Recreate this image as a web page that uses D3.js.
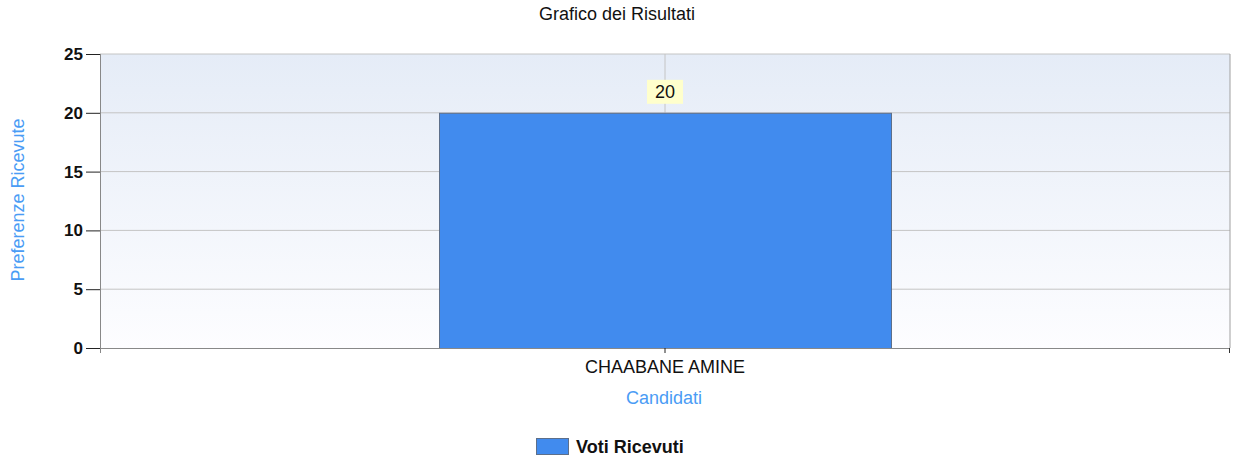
<!DOCTYPE html>
<html>
<head>
<meta charset="utf-8">
<script src="https://cdn.jsdelivr.net/npm/d3@7"></script>
<style>
  body { margin: 0; background: #fff; }
  text { font-family: Arial, "Liberation Sans", sans-serif; }
</style>
</head>
<body>
<script>
// chart data
var candidati = ["CHAABANE AMINE"];
var voti = [20];
var yTicks = [0, 5, 10, 15, 20, 25];
var seriesName = "Voti Ricevuti";

var W = 1234, H = 461;
var margin = {top: 54, right: 4, bottom: 113, left: 100},
    width = W - margin.left - margin.right,
    height = H - margin.top - margin.bottom;

var svg = d3.select("body").append("svg")
    .attr("width", W)
    .attr("height", H);

// background gradient
var grad = svg.append("defs").append("linearGradient")
    .attr("id", "bg").attr("x1", 0).attr("y1", 0).attr("x2", 0).attr("y2", 1);
grad.append("stop").attr("offset", "0%").attr("stop-color", "#e5ecf7");
grad.append("stop").attr("offset", "100%").attr("stop-color", "#fdfdff");

var g = svg.append("g")
    .attr("transform", "translate(" + margin.left + "," + margin.top + ")");

var x = d3.scaleBand().domain(candidati).range([0, width]).paddingInner(0).paddingOuter(0);
var y = d3.scaleLinear().domain([0, 25]).range([height, 0]);

g.append("rect")
    .attr("width", width).attr("height", height)
    .attr("fill", "url(#bg)");

// horizontal grid
g.selectAll(".hgrid").data(yTicks.slice(1)).enter().append("line")
    .attr("x1", 0).attr("x2", width)
    .attr("y1", function(d) { return y(d); })
    .attr("y2", function(d) { return y(d); })
    .attr("stroke", "#c4c4c4").attr("stroke-width", 1);

// vertical grid at category center
g.selectAll(".vgrid").data(candidati).enter().append("line")
    .attr("x1", function(d) { return x(d) + x.bandwidth() / 2; })
    .attr("x2", function(d) { return x(d) + x.bandwidth() / 2; })
    .attr("y1", 0).attr("y2", height)
    .attr("stroke", "#c4c4c4");

// right border
g.append("line").attr("x1", width).attr("x2", width).attr("y1", 0).attr("y2", height)
    .attr("stroke", "#a0a0a0");

// bars
var barW = x.bandwidth() * 0.4;
g.selectAll(".bar").data(voti).enter().append("rect")
    .attr("x", function(d, i) { return x(candidati[i]) + x.bandwidth() / 2 - barW / 2 + 0.5; })
    .attr("y", function(d) { return y(d) + 0.5; })
    .attr("width", barW)
    .attr("height", function(d) { return height - y(d); })
    .attr("fill", "#418bee")
    .attr("stroke", "#5d6f8a").attr("stroke-width", 1);

// value labels
var lbl = g.selectAll(".vlbl").data(voti).enter().append("g")
    .attr("transform", function(d, i) {
      return "translate(" + (x(candidati[i]) + x.bandwidth() / 2) + "," + (y(d) - 21) + ")";
    });
lbl.append("rect").attr("x", -18).attr("y", -12).attr("width", 36).attr("height", 24)
    .attr("fill", "#ffffcc");
lbl.append("text").attr("text-anchor", "middle").attr("dy", "0.36em")
    .attr("font-size", 18).attr("fill", "#111").text(function(d) { return d; });

// y axis
var yAxis = g.append("g").call(d3.axisLeft(y).tickValues(yTicks).tickSize(14).tickPadding(3));
yAxis.select(".domain").remove();
yAxis.selectAll(".tick line").attr("stroke", "#222");
yAxis.selectAll(".tick text").attr("font-size", 17).attr("font-weight", "bold").attr("fill", "#111");
g.append("line").attr("x1", 0.5).attr("x2", 0.5).attr("y1", 0).attr("y2", height + 5)
    .attr("stroke", "#888");

// x axis
var xAxis = g.append("g").attr("transform", "translate(0," + height + ")")
    .call(d3.axisBottom(x).tickSize(5).tickPadding(7));
xAxis.select(".domain").attr("stroke", "#888").attr("d", "M0,0.5H" + width);
xAxis.selectAll(".tick line").attr("stroke", "#222");
xAxis.selectAll(".tick text").attr("font-size", 18).attr("fill", "#111");
g.append("line").attr("x1", width - 0.5).attr("x2", width - 0.5).attr("y1", height).attr("y2", height + 5)
    .attr("stroke", "#333");

// title and axis titles
svg.append("text").attr("x", 617).attr("y", 20).attr("text-anchor", "middle")
    .attr("font-size", 18).attr("fill", "#111").text("Grafico dei Risultati");
svg.append("text").attr("x", 664).attr("y", 404).attr("text-anchor", "middle")
    .attr("font-size", 18).attr("fill", "#4a9cf5").text("Candidati");
svg.append("text").attr("transform", "translate(24,200) rotate(-90)").attr("text-anchor", "middle")
    .attr("font-size", 18).attr("fill", "#4a9cf5").text("Preferenze Ricevute");

// legend
var leg = svg.append("g").attr("transform", "translate(536,438)");
leg.append("rect").attr("x", 0.5).attr("y", 0.5).attr("width", 32).attr("height", 16)
    .attr("fill", "#418bee").attr("stroke", "#5d6f8a");
leg.append("text").attr("x", 40).attr("y", 15).attr("font-size", 18).attr("font-weight", "bold")
    .attr("fill", "#111").text(seriesName);
</script>
</body>
</html>
